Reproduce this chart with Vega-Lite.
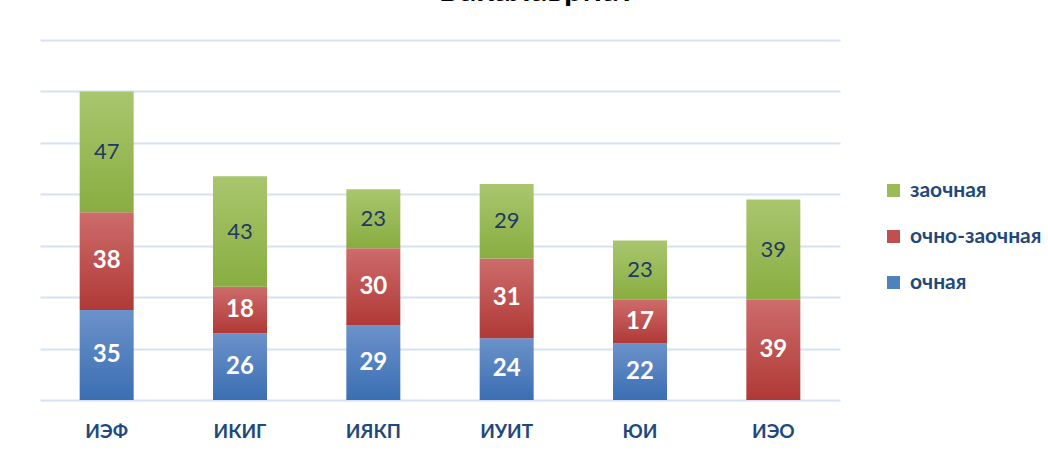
{
  "$schema": "https://vega.github.io/schema/vega-lite/v6.json",
  "width": 800,
  "height": 360,
  "autosize": {"type": "none"},
  "padding": {"left": 40, "top": 40, "right": 208, "bottom": 58},
  "background": "white",
  "title": {
    "text": "Бакалавриат",
    "font": "Lato",
    "fontSize": 33,
    "fontWeight": "bold",
    "color": "#000000",
    "anchor": "middle",
    "dx": 97,
    "dy": -6,
    "baseline": "alphabetic",
    "offset": 0
  },
  "config": {
    "view": {"stroke": null},
    "font": "Lato"
  },
  "data": {
    "values": [
      {"inst": "ИЭФ", "form": "очная", "value": 35},
      {"inst": "ИЭФ", "form": "очно-заочная", "value": 38},
      {"inst": "ИЭФ", "form": "заочная", "value": 47},
      {"inst": "ИКИГ", "form": "очная", "value": 26},
      {"inst": "ИКИГ", "form": "очно-заочная", "value": 18},
      {"inst": "ИКИГ", "form": "заочная", "value": 43},
      {"inst": "ИЯКП", "form": "очная", "value": 29},
      {"inst": "ИЯКП", "form": "очно-заочная", "value": 30},
      {"inst": "ИЯКП", "form": "заочная", "value": 23},
      {"inst": "ИУИТ", "form": "очная", "value": 24},
      {"inst": "ИУИТ", "form": "очно-заочная", "value": 31},
      {"inst": "ИУИТ", "form": "заочная", "value": 29},
      {"inst": "ЮИ", "form": "очная", "value": 22},
      {"inst": "ЮИ", "form": "очно-заочная", "value": 17},
      {"inst": "ЮИ", "form": "заочная", "value": 23},
      {"inst": "ИЭО", "form": "очная", "value": 0},
      {"inst": "ИЭО", "form": "очно-заочная", "value": 39},
      {"inst": "ИЭО", "form": "заочная", "value": 39}
    ]
  },
  "transform": [
    {"calculate": "datum.form === 'очная' ? 0 : datum.form === 'очно-заочная' ? 1 : 2", "as": "ord"},
    {"stack": "value", "groupby": ["inst"], "sort": [{"field": "ord", "order": "ascending"}], "as": ["y0", "y1"]},
    {"calculate": "(datum.y0 + datum.y1) / 2", "as": "ymid"}
  ],
  "encoding": {
    "x": {
      "field": "inst",
      "type": "nominal",
      "sort": ["ИЭФ", "ИКИГ", "ИЯКП", "ИУИТ", "ЮИ", "ИЭО"],
      "scale": {"paddingInner": 0.595, "paddingOuter": 0.2975},
      "axis": {
        "title": null,
        "labelAngle": 0,
        "domain": false,
        "ticks": false,
        "labelPadding": 22,
        "labelFont": "Lato",
        "labelFontSize": 19,
        "labelFontWeight": "bold",
        "labelColor": "#1F497D"
      }
    }
  },
  "layer": [
    {
      "mark": {"type": "square", "filled": true, "opacity": 0},
      "encoding": {
        "y": {
          "field": "ymid",
          "type": "quantitative",
          "scale": {"domain": [0, 140]},
          "axis": {
            "title": null,
            "labels": false,
            "ticks": false,
            "domain": false,
            "values": [0, 20, 40, 60, 80, 100, 120, 140],
            "gridColor": "#D6E2F2",
            "gridWidth": 2,
            "gridOpacity": 1
          }
        },
        "color": {
          "field": "form",
          "type": "nominal",
          "scale": {
            "domain": ["заочная", "очно-заочная", "очная"],
            "range": ["#9BBB59", "#C0504D", "#4F81BD"]
          },
          "legend": {
            "title": null,
            "orient": "none",
            "legendX": 843,
            "legendY": 140,
            "symbolType": "square",
            "symbolSize": 169,
            "symbolOpacity": 1,
            "symbolStrokeWidth": 0,
            "rowPadding": 24,
            "labelFont": "Lato",
            "labelFontSize": 21,
            "labelFontWeight": "bold",
            "labelColor": "#1F497D",
            "labelOffset": 6
          }
        }
      }
    },
    {
      "transform": [{"filter": "datum.form === 'очная'"}],
      "mark": {"type": "bar", "color": {"gradient": "linear", "x1": 0, "y1": 0, "x2": 0, "y2": 1, "stops": [{"offset": 0, "color": "#6B92CA"}, {"offset": 1, "color": "#3B6EB3"}]}},
      "encoding": {
        "y": {"field": "y0", "type": "quantitative"},
        "y2": {"field": "y1"}
      }
    },
    {
      "transform": [{"filter": "datum.form === 'очно-заочная'"}],
      "mark": {"type": "bar", "color": {"gradient": "linear", "x1": 0, "y1": 0, "x2": 0, "y2": 1, "stops": [{"offset": 0, "color": "#CD6C6B"}, {"offset": 1, "color": "#B03936"}]}},
      "encoding": {
        "y": {"field": "y0", "type": "quantitative"},
        "y2": {"field": "y1"}
      }
    },
    {
      "transform": [{"filter": "datum.form === 'заочная'"}],
      "mark": {"type": "bar", "color": {"gradient": "linear", "x1": 0, "y1": 0, "x2": 0, "y2": 1, "stops": [{"offset": 0, "color": "#A9C66E"}, {"offset": 1, "color": "#89AD40"}]}},
      "encoding": {
        "y": {"field": "y0", "type": "quantitative"},
        "y2": {"field": "y1"}
      }
    },
    {
      "transform": [{"filter": "datum.form !== 'заочная' && datum.value > 0"}],
      "mark": {"type": "text", "font": "Lato", "fontSize": 24, "fontWeight": "bold", "color": "white", "baseline": "middle"},
      "encoding": {
        "y": {"field": "ymid", "type": "quantitative"},
        "text": {"field": "value", "type": "quantitative"}
      }
    },
    {
      "transform": [{"filter": "datum.form === 'заочная' && datum.value > 0"}],
      "mark": {"type": "text", "font": "Lato", "fontSize": 22, "fontWeight": "normal", "color": "#1F3864", "baseline": "middle"},
      "encoding": {
        "y": {"field": "ymid", "type": "quantitative"},
        "text": {"field": "value", "type": "quantitative"}
      }
    }
  ]
}
